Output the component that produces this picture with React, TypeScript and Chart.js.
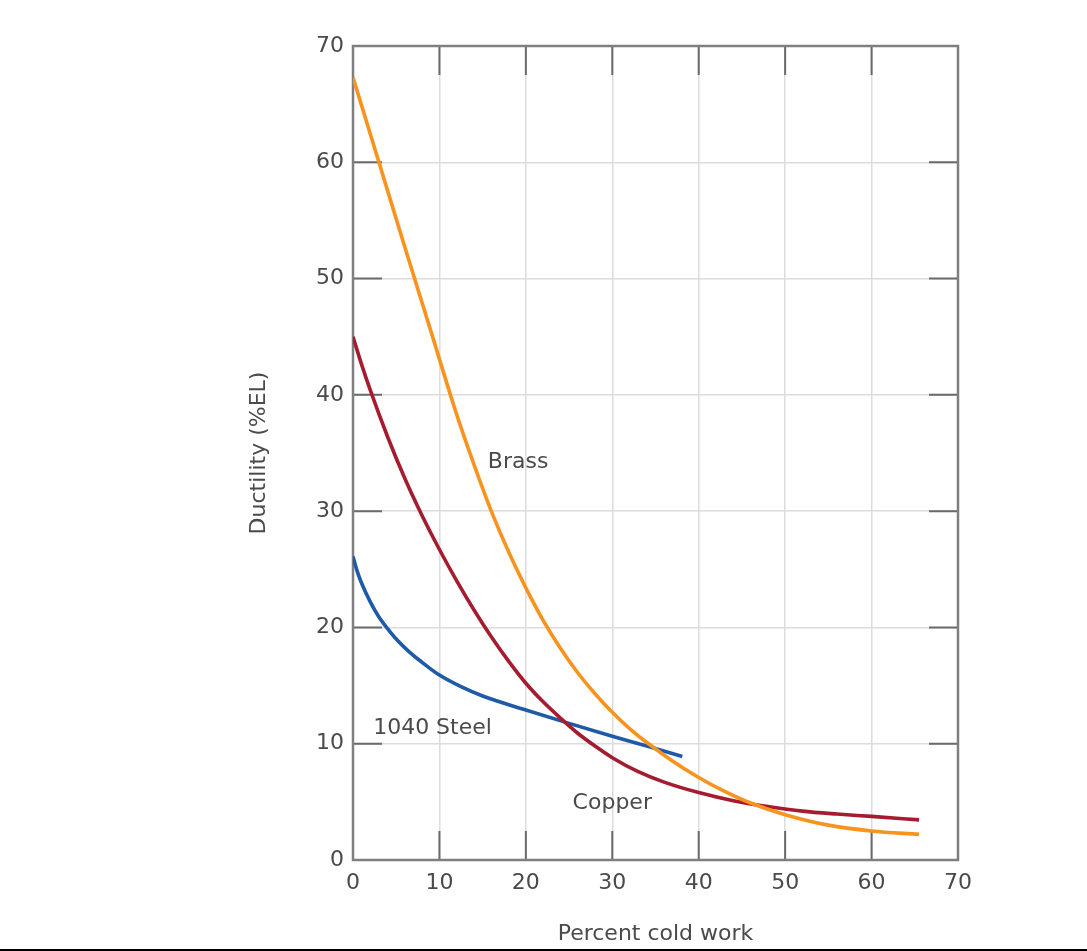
import React, { useEffect, useRef } from "react";
import { Chart, registerables } from "chart.js";

Chart.register(...registerables);

const xTickValues = [0, 10, 20, 30, 40, 50, 60, 70];
const yTickValues = [0, 10, 20, 30, 40, 50, 60, 70];

const brassX = [0, 3, 6, 9, 12, 14, 16, 18, 20, 22, 24, 26, 28, 30, 32, 34, 37, 40, 43, 46, 50, 55, 60, 65.5];
const brassY = [67.3, 60.0, 52.7, 45.5, 38.3, 34.0, 30.0, 26.5, 23.4, 20.6, 18.2, 16.1, 14.3, 12.7, 11.3, 10.1, 8.5, 7.1, 5.9, 4.9, 3.9, 3.0, 2.5, 2.2];

const copperX = [0, 1, 2, 4, 6, 8, 10, 12, 14, 16, 18, 20, 22, 24, 26, 28, 30, 33, 36, 40, 44, 48, 52, 56, 60, 65.5];
const copperY = [45, 42.6, 40.4, 36.4, 32.8, 29.6, 26.7, 24.0, 21.5, 19.2, 17.1, 15.2, 13.6, 12.2, 10.9, 9.8, 8.8, 7.6, 6.7, 5.8, 5.1, 4.6, 4.2, 3.95, 3.75, 3.45];

const steelX = [0, 0.5, 1, 2, 3, 4, 5, 6.5, 8, 10, 12.5, 15, 20, 25, 30, 34, 38.1];
const steelY = [26.1, 24.8, 23.8, 22.2, 20.9, 19.9, 19.0, 17.9, 17.0, 15.9, 14.9, 14.1, 12.9, 11.75, 10.65, 9.8, 8.9];

const curveNames = ["Brass", "Copper", "1040 Steel"];
const curveColors = ["#F7931E", "#A51C30", "#1F5AA6"];

const noteTexts = ["Brass", "1040 Steel", "Copper"];
const noteX = [19.1, 9.2, 30.0];
const noteY = [34.2, 11.3, 4.9];

const xTitle = "Percent cold work";
const yTitle = "Ductility (%EL)";

const FONT = "'DejaVu Sans', 'Liberation Sans', sans-serif";
const TEXT_COLOR = "#4a4a4a";

const W = 1087;
const H = 951;

function pts(xs: number[], ys: number[]) {
  return xs.map((x, i) => ({ x, y: ys[i] }));
}

const frameTicks = {
  id: "frameTicks",
  beforeDatasetsDraw(chart: any) {
    const { ctx, chartArea, scales } = chart;
    const { left, right, top, bottom } = chartArea;
    const xs = scales.x;
    const ys = scales.y;
    const len = 29;
    ctx.save();
    ctx.strokeStyle = "#6a6a6a";
    ctx.lineWidth = 2;
    ctx.beginPath();
    xs.ticks.forEach((t: any) => {
      if (t.value <= xs.min || t.value >= xs.max) return;
      const px = xs.getPixelForValue(t.value);
      ctx.moveTo(px, top);
      ctx.lineTo(px, top + len);
      ctx.moveTo(px, bottom);
      ctx.lineTo(px, bottom - len);
    });
    ys.ticks.forEach((t: any) => {
      if (t.value <= ys.min || t.value >= ys.max) return;
      const py = ys.getPixelForValue(t.value);
      ctx.moveTo(left, py);
      ctx.lineTo(left + len, py);
      ctx.moveTo(right, py);
      ctx.lineTo(right - len, py);
    });
    ctx.stroke();
    ctx.strokeStyle = "#7f7f7f";
    ctx.lineWidth = 2.5;
    ctx.strokeRect(left, top, right - left, bottom - top);
    ctx.restore();
  },
};

const curveNotes = {
  id: "curveNotes",
  afterDatasetsDraw(chart: any) {
    const { ctx, scales } = chart;
    ctx.save();
    ctx.font = `22px ${FONT}`;
    ctx.fillStyle = TEXT_COLOR;
    ctx.textAlign = "center";
    ctx.textBaseline = "middle";
    noteTexts.forEach((t, i) => {
      ctx.fillText(t, scales.x.getPixelForValue(noteX[i]), scales.y.getPixelForValue(noteY[i]));
    });
    ctx.restore();
  },
};

export default function App() {
  const ref = useRef<HTMLCanvasElement | null>(null);

  useEffect(() => {
    if (!ref.current) return;
    const series = [pts(brassX, brassY), pts(copperX, copperY), pts(steelX, steelY)];
    const chart = new Chart(ref.current, {
      type: "line",
      data: {
        datasets: series.map((d, i) => ({
          label: curveNames[i],
          data: d,
          borderColor: curveColors[i],
          backgroundColor: curveColors[i],
          borderWidth: 3.6,
          pointRadius: 0,
          fill: false,
          cubicInterpolationMode: "monotone" as const,
        })),
      },
      options: {
        responsive: false,
        animation: false,
        layout: { padding: { left: 246, right: 129, top: 46, bottom: 4 } },
        plugins: {
          legend: { display: false },
          tooltip: { enabled: false },
        },
        scales: {
          x: {
            type: "linear",
            min: 0,
            max: 70,
            afterBuildTicks: (s: any) => {
              s.ticks = xTickValues.map((v) => ({ value: v }));
            },
            afterFit: (s: any) => {
              s.height = 87;
            },
            grid: { color: "#dcdcdc", lineWidth: 1.5, drawTicks: false },
            border: { display: false },
            ticks: {
              padding: 10,
              color: TEXT_COLOR,
              font: { family: FONT, size: 22 },
              maxRotation: 0,
            },
            title: {
              display: true,
              text: xTitle,
              color: TEXT_COLOR,
              font: { family: FONT, size: 22 },
              padding: 0,
            },
          },
          y: {
            type: "linear",
            min: 0,
            max: 70,
            afterBuildTicks: (s: any) => {
              s.ticks = yTickValues.map((v) => ({ value: v }));
            },
            afterFit: (s: any) => {
              s.width = 107;
            },
            grid: { color: "#dcdcdc", lineWidth: 1.5, drawTicks: false },
            border: { display: false },
            ticks: {
              padding: 9,
              color: TEXT_COLOR,
              font: { family: FONT, size: 22 },
            },
            title: {
              display: true,
              text: yTitle,
              color: TEXT_COLOR,
              font: { family: FONT, size: 22 },
              padding: 0,
            },
          },
        },
      },
      plugins: [frameTicks, curveNotes],
    });
    return () => chart.destroy();
  }, []);

  return (
    <div style={{ position: "absolute", left: 0, top: 0, width: W, height: H, background: "#fff" }}>
      <canvas ref={ref} width={W} height={H} style={{ display: "block" }} />
      <div style={{ position: "absolute", left: 0, top: 949, width: W, height: 2, background: "#000" }} />
    </div>
  );
}
